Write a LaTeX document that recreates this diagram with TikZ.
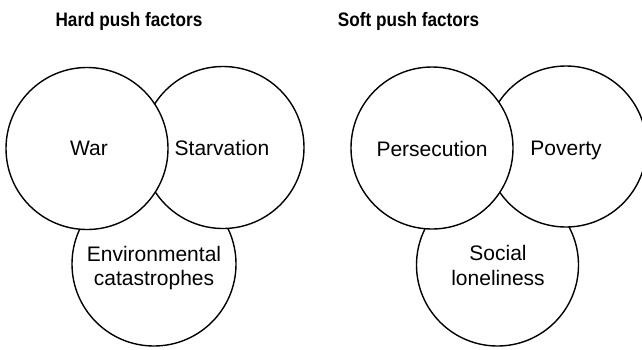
\documentclass[tikz,border=0pt]{standalone}
\usepackage{fontspec}
\setmainfont{Liberation Sans}
\newfontfamily\headfont{Liberation Sans}[FakeStretch=0.88]
\begin{document}
\begin{tikzpicture}[x=1pt,y=-1pt,
  ring/.style={circle,draw=black,fill=white,line width=1.4pt,inner sep=0pt,
    minimum size=#1},
  ring/.default=162pt,
  word/.style={anchor=base,inner sep=0pt,font=\fontsize{21}{24}\selectfont},
  heading/.style={anchor=base,inner sep=0pt,font=\headfont\bfseries\fontsize{19.5}{22}\selectfont}]
\useasboundingbox (0,0) rectangle (642,349);
% titles
\node[heading] (hard) at (129,26) {Hard push factors};
\node[heading] (soft) at (408.5,26) {Soft push factors};
% hard push factors
\node[ring=164pt] (env) at (154,264) {};
\node[ring] (starv) at (223,147.5) {};
\node[ring] (war) at (87,148.5) {};
\node[word] (warT) at (89,155) {War};
\node[word] (starvT) at (222,155) {Starvation};
\node[word] (envA) at (154,261.5) {Environmental};
\node[word] (envB) at (154,285.5) {catastrophes};
% soft push factors
\node[ring] (social) at (497.5,265) {};
\node[ring=161pt] (pov) at (566,146.5) {};
\node[ring] (pers) at (432,148) {};
\node[word] (persT) at (432,156) {Persecution};
\node[word] (povT) at (566,155) {Poverty};
\node[word] (socA) at (498,260.5) {Social};
\node[word] (socB) at (498,285) {loneliness};
\end{tikzpicture}
\end{document}
